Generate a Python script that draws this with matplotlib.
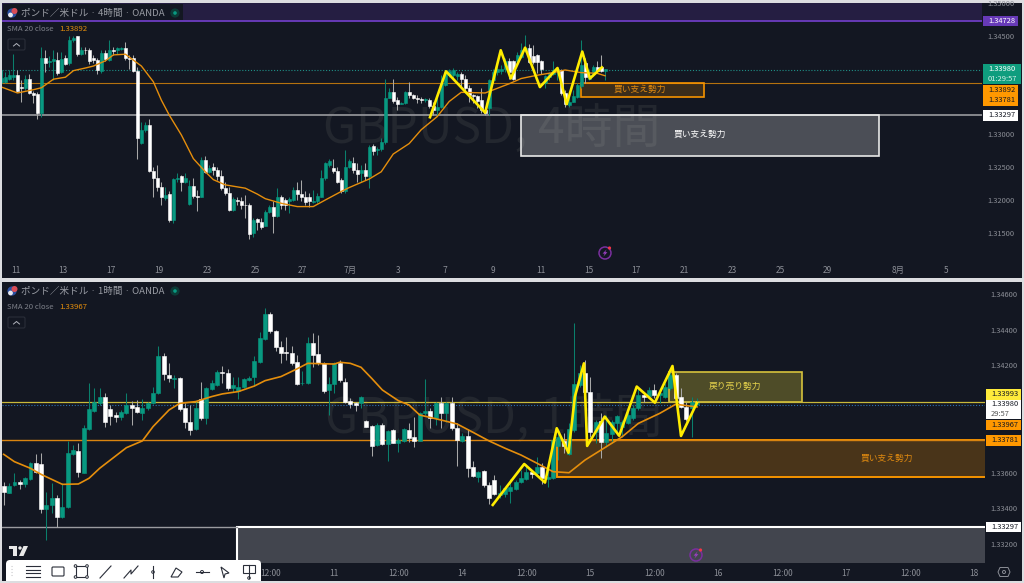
import numpy as np
import matplotlib
matplotlib.use('Agg')
import matplotlib.pyplot as plt
from matplotlib.patches import Rectangle, Circle, FancyBboxPatch, Polygon

plt.rcParams['font.family'] = ['Noto Sans CJK JP', 'DejaVu Sans']

# 4 hour panel
opens_4h = [1.3380,1.3380,1.3385,1.3388,1.3390,1.3372,1.3371,1.3384,1.3363,1.3361,
    1.3332,1.3416,1.3410,1.3411,1.3413,1.3395,1.3416,1.3408,1.3443,1.3449,
    1.3422,1.3429,1.3429,1.3417,1.3413,1.3397,1.3424,1.3413,1.3429,1.3428,
    1.3430,1.3431,1.3417,1.3416,1.3396,1.3287,1.3306,1.3314,1.3244,1.3233,
    1.3220,1.3203,1.3209,1.3170,1.3232,1.3236,1.3228,1.3194,1.3221,1.3206,
    1.3205,1.3261,1.3243,1.3251,1.3245,1.3236,1.3219,1.3211,1.3185,1.3200,
    1.3199,1.3193,1.3192,1.3149,1.3171,1.3167,1.3161,1.3181,1.3190,1.3175,
    1.3205,1.3200,1.3199,1.3200,1.3216,1.3209,1.3205,1.3205,1.3197,1.3198,
    1.3205,1.3233,1.3253,1.3249,1.3244,1.3231,1.3213,1.3251,1.3257,1.3245,
    1.3241,1.3246,1.3236,1.3282,1.3276,1.3277,1.3289,1.3356,1.3364,1.3353,
    1.3346,1.3347,1.3365,1.3360,1.3356,1.3354,1.3352,1.3353,1.3343,1.3337,
    1.3341,1.3375,1.3390,1.3390,1.3389,1.3392,1.3385,1.3371,1.3360,1.3359,
    1.3353,1.3337,1.3340,1.3383,1.3395,1.3397,1.3399,1.3412,1.3411,1.3411,
    1.3418,1.3428,1.3431,1.3419,1.3421,1.3411,1.3378,1.3388,1.3392,1.3397,
    1.3398,1.3363,1.3345,1.3350,1.3357,1.3374,1.3408,1.3385,1.3392,1.3402,
    1.3402,1.3397]
closes_4h = [1.3386,1.3388,1.3390,1.3390,1.3366,1.3370,1.3384,1.3363,1.3360,1.3332,
    1.3416,1.3408,1.3412,1.3414,1.3393,1.3414,1.3407,1.3444,1.3447,1.3422,
    1.3429,1.3428,1.3411,1.3413,1.3398,1.3424,1.3414,1.3428,1.3427,1.3431,
    1.3431,1.3417,1.3415,1.3396,1.3294,1.3307,1.3314,1.3244,1.3233,1.3220,
    1.3204,1.3208,1.3169,1.3232,1.3234,1.3228,1.3233,1.3221,1.3206,1.3205,
    1.3261,1.3243,1.3249,1.3245,1.3236,1.3219,1.3211,1.3185,1.3202,1.3198,
    1.3193,1.3192,1.3148,1.3170,1.3167,1.3159,1.3182,1.3190,1.3175,1.3205,
    1.3193,1.3193,1.3201,1.3216,1.3209,1.3205,1.3197,1.3198,1.3198,1.3206,
    1.3233,1.3256,1.3260,1.3244,1.3228,1.3213,1.3251,1.3260,1.3245,1.3240,
    1.3246,1.3236,1.3280,1.3274,1.3277,1.3289,1.3356,1.3364,1.3351,1.3346,
    1.3347,1.3365,1.3360,1.3356,1.3354,1.3352,1.3354,1.3343,1.3337,1.3342,
    1.3378,1.3395,1.3397,1.3398,1.3392,1.3385,1.3371,1.3360,1.3359,1.3351,
    1.3337,1.3333,1.3383,1.3395,1.3400,1.3400,1.3412,1.3395,1.3385,1.3421,
    1.3428,1.3431,1.3410,1.3410,1.3410,1.3400,1.3389,1.3393,1.3398,1.3400,
    1.3363,1.3346,1.3350,1.3358,1.3375,1.3405,1.3388,1.3390,1.3403,1.3397,
    1.3396,1.3399]
highs_4h = [1.3398,1.3395,1.3398,1.3423,1.3398,1.3383,1.3390,1.3392,1.3366,1.3365,
    1.3433,1.3428,1.3419,1.3428,1.3426,1.3426,1.3421,1.3449,1.3450,1.3450,
    1.3433,1.3433,1.3431,1.3421,1.3417,1.3428,1.3428,1.3443,1.3433,1.3433,
    1.3433,1.3441,1.3421,1.3421,1.3403,1.3319,1.3319,1.3324,1.3251,1.3253,
    1.3228,1.3220,1.3213,1.3233,1.3241,1.3238,1.3241,1.3231,1.3233,1.3215,
    1.3266,1.3267,1.3253,1.3256,1.3251,1.3246,1.3228,1.3220,1.3205,1.3205,
    1.3204,1.3208,1.3195,1.3172,1.3172,1.3172,1.3185,1.3193,1.3198,1.3219,
    1.3208,1.3203,1.3205,1.3220,1.3228,1.3231,1.3213,1.3210,1.3215,1.3211,
    1.3246,1.3258,1.3262,1.3262,1.3251,1.3233,1.3276,1.3263,1.3266,1.3256,
    1.3253,1.3256,1.3284,1.3285,1.3281,1.3294,1.3384,1.3370,1.3385,1.3357,
    1.3350,1.3366,1.3380,1.3362,1.3360,1.3357,1.3356,1.3355,1.3350,1.3357,
    1.3390,1.3398,1.3400,1.3401,1.3395,1.3395,1.3390,1.3375,1.3362,1.3360,
    1.3370,1.3342,1.3385,1.3400,1.3413,1.3405,1.3416,1.3416,1.3413,1.3426,
    1.3439,1.3451,1.3438,1.3436,1.3423,1.3413,1.3390,1.3395,1.3411,1.3403,
    1.3400,1.3367,1.3360,1.3367,1.3378,1.3443,1.3416,1.3400,1.3405,1.3411,
    1.3421,1.3400]
lows_4h = [1.3378,1.3378,1.3383,1.3383,1.3365,1.3350,1.3368,1.3361,1.3347,1.3324,
    1.3327,1.3395,1.3403,1.3383,1.3390,1.3393,1.3405,1.3405,1.3441,1.3419,
    1.3421,1.3423,1.3407,1.3409,1.3392,1.3393,1.3411,1.3411,1.3421,1.3423,
    1.3428,1.3413,1.3400,1.3395,1.3262,1.3285,1.3304,1.3243,1.3205,1.3213,
    1.3193,1.3200,1.3167,1.3165,1.3228,1.3213,1.3226,1.3193,1.3203,1.3184,
    1.3204,1.3241,1.3241,1.3238,1.3231,1.3216,1.3208,1.3184,1.3184,1.3193,
    1.3187,1.3172,1.3140,1.3143,1.3154,1.3156,1.3160,1.3180,1.3150,1.3174,
    1.3187,1.3185,1.3180,1.3198,1.3200,1.3198,1.3193,1.3190,1.3195,1.3196,
    1.3204,1.3231,1.3251,1.3241,1.3226,1.3211,1.3211,1.3248,1.3241,1.3228,
    1.3228,1.3231,1.3219,1.3269,1.3269,1.3275,1.3286,1.3355,1.3348,1.3337,
    1.3346,1.3346,1.3356,1.3354,1.3348,1.3347,1.3349,1.3340,1.3329,1.3329,
    1.3340,1.3374,1.3388,1.3385,1.3383,1.3372,1.3365,1.3350,1.3347,1.3340,
    1.3332,1.3329,1.3329,1.3380,1.3390,1.3392,1.3395,1.3385,1.3383,1.3408,
    1.3416,1.3426,1.3408,1.3407,1.3393,1.3392,1.3371,1.3383,1.3390,1.3383,
    1.3360,1.3342,1.3341,1.3350,1.3355,1.3371,1.3378,1.3383,1.3389,1.3393,
    1.3395,1.3383]
sma_bars_4h = [0,4,8,10,13,16,18,21,23,26,28,31,33,35,38,40,42,45,48,51,53,56,61,64,66,70,74,78,81,85,
    87,92,95,98,102,105,109,112,115,121,124,127,130,134,138,141,145,149,151]
sma_4h = [1.3372,1.3363,1.3368,1.3371,1.3384,1.3387,1.3397,1.3401,1.3404,1.3412,1.3421,1.3422,1.3413,1.3404,
    1.3380,1.3352,1.3329,1.3299,1.3263,1.3243,1.3231,1.3223,1.3218,1.3209,1.3202,1.3195,1.3190,1.3190,1.3200,1.3213,
    1.3219,1.3232,1.3243,1.3270,1.3286,1.3307,1.3327,1.3350,1.3364,1.3363,1.3370,1.3377,1.3385,1.3390,1.3394,1.3398,
    1.3394,1.3393,1.33892]
wave_bars_4h = [107.2,111.2,121,124.9,127.4,131,134.7,139.1,141.4,145.3,147.2,150.2]
wave_4h = [1.3326,1.3396,1.3333,1.3428,1.3385,1.3432,1.3372,1.3401,1.3346,1.3426,1.3385,1.3402]
ticks_4h = [3.63,15.39,27.4,39.4,51.4,63.4,75.2,87.2,99.2,111,123,135,147,158.8,170.8,182.8,194.8,206.5,224.3,236.3]
tick_labels_4h = ['11','13','17','19','23','25','27','7月','3','7','9','11','15','17','21','23','25','29','8月','5']
prices_4h = [1.315,1.32,1.325,1.33,1.345,1.35]

# 1 hour panel
opens_1h = [1.33527,1.33488,1.3353,1.33549,1.33536,1.33562,1.33655,1.33648,1.33394,1.33419,
    1.33456,1.33353,1.33406,1.33704,1.33723,1.33599,1.33844,1.33946,1.33991,1.34025,
    1.33954,1.33922,1.33909,1.33935,1.33978,1.33965,1.33935,1.33959,1.33987,1.34043,
    1.34254,1.34148,1.34124,1.34127,1.33959,1.33885,1.33844,1.34012,1.33907,1.34068,
    1.3409,1.34165,1.34159,1.34071,1.34056,1.34081,1.34118,1.34133,1.34221,1.34345,
    1.34485,1.34392,1.34304,1.34276,1.34267,1.34217,1.34099,1.34099,1.34323,1.34262,
    1.34211,1.34062,1.34096,1.34211,1.34109,1.34002,1.33987,1.33987,1.33889,1.33862,
    1.33754,1.33866,1.3376,1.33838,1.33764,1.33779,1.33838,1.33797,1.33779,1.33931,
    1.33944,1.33907,1.33987,1.33931,1.33991,1.33851,1.33779,1.33806,1.33633,1.33577,
    1.33609,1.3353,1.33558,1.33475,1.3348,1.33499,1.33508,1.33549,1.33564,1.33605,
    1.33599,1.33629,1.33564,1.33568,1.33749,1.33777,1.33704,1.33838,1.3409,1.34155,
    1.34053,1.33829,1.33889,1.3377,1.33816,1.33875,1.33857,1.33879,1.33903,1.33959,
    1.34034,1.34028,1.34062,1.34034,1.34025,1.34071,1.34146,1.34021,1.33965,1.33959,1.33984]
closes_1h = [1.33493,1.33527,1.33549,1.33534,1.33568,1.33652,1.33605,1.33394,1.33419,1.33456,
    1.33353,1.33409,1.33708,1.33726,1.33605,1.33848,1.33954,1.33997,1.34025,1.33885,
    1.33917,1.33913,1.33937,1.33978,1.33963,1.33937,1.33959,1.33987,1.34043,1.34254,
    1.3415,1.34127,1.34127,1.33954,1.33885,1.33838,1.33959,1.33907,1.34071,1.34099,
    1.34161,1.34155,1.34075,1.3409,1.34077,1.34122,1.34131,1.34226,1.34351,1.34485,
    1.34392,1.34301,1.34271,1.34267,1.34211,1.34094,1.34103,1.34323,1.34258,1.34211,
    1.34058,1.34094,1.34211,1.34118,1.33997,1.33984,1.33978,1.34025,1.33857,1.33751,
    1.33866,1.33758,1.33834,1.33767,1.33782,1.33842,1.33795,1.33779,1.33931,1.33944,
    1.33907,1.33987,1.33931,1.33991,1.33848,1.33782,1.33806,1.33627,1.33581,1.33605,
    1.3353,1.3346,1.3348,1.33484,1.33512,1.33521,1.33549,1.33568,1.33605,1.33592,
    1.33629,1.33568,1.33577,1.33782,1.33797,1.33751,1.33842,1.34096,1.34155,1.34053,
    1.33825,1.33885,1.33773,1.3382,1.33885,1.33917,1.33885,1.33922,1.33963,1.34034,
    1.34025,1.34062,1.34034,1.34043,1.34077,1.34146,1.34015,1.33965,1.339,1.33997,1.33991]
highs_1h = [1.33549,1.3354,1.33596,1.33558,1.33573,1.33661,1.33704,1.33708,1.33493,1.3354,
    1.33475,1.3354,1.33777,1.33754,1.33764,1.33866,1.34099,1.34071,1.34071,1.34043,
    1.33978,1.33941,1.3395,1.34043,1.34002,1.34006,1.3401,1.33997,1.34081,1.34308,
    1.34271,1.34215,1.34146,1.34133,1.33987,1.33978,1.33997,1.34109,1.34081,1.34118,
    1.34174,1.34196,1.34178,1.34133,1.34137,1.34127,1.3414,1.34252,1.34388,1.34519,
    1.345,1.34398,1.34338,1.3436,1.34308,1.34258,1.3417,1.3436,1.34379,1.3437,
    1.34221,1.34137,1.34221,1.3423,1.34127,1.34015,1.33997,1.34028,1.33894,1.33866,
    1.33875,1.33879,1.33838,1.33844,1.33792,1.33848,1.33875,1.33913,1.33941,1.34122,
    1.33959,1.33997,1.34025,1.33997,1.34025,1.33875,1.3382,1.33842,1.33665,1.33611,
    1.33614,1.33549,1.33586,1.3353,1.33521,1.33562,1.33558,1.33614,1.33648,1.33614,
    1.33689,1.33652,1.33614,1.33792,1.33838,1.3382,1.33875,1.34435,1.34202,1.3423,
    1.34137,1.33894,1.33931,1.33922,1.33894,1.33922,1.33894,1.33941,1.33978,1.34081,
    1.34053,1.34081,1.34096,1.34062,1.34099,1.34183,1.34155,1.34071,1.33997,1.34025,1.34015]
lows_1h = [1.33419,1.33484,1.33525,1.33508,1.33517,1.33558,1.33596,1.33376,1.33223,1.33372,
    1.33297,1.33344,1.334,1.33698,1.33573,1.33596,1.33838,1.33941,1.33978,1.33857,
    1.33866,1.33885,1.33894,1.33928,1.33866,1.33931,1.33894,1.3395,1.33984,1.3404,
    1.34118,1.34109,1.34071,1.33946,1.33848,1.3381,1.33838,1.33894,1.33872,1.34062,
    1.34084,1.34099,1.34062,1.34053,1.3401,1.34071,1.34114,1.34084,1.34215,1.34342,
    1.34379,1.34282,1.34215,1.3423,1.34202,1.3409,1.3409,1.34096,1.34193,1.34202,
    1.34043,1.33922,1.34043,1.34109,1.33987,1.33959,1.33946,1.33959,1.33853,1.33695,
    1.33751,1.33754,1.33667,1.33764,1.33713,1.33773,1.33773,1.33745,1.33777,1.33922,
    1.33851,1.33866,1.33851,1.33885,1.33838,1.33637,1.33773,1.33573,1.33573,1.33549,
    1.33521,1.33424,1.33475,1.33456,1.33465,1.33428,1.33502,1.33544,1.33558,1.33568,
    1.33586,1.33536,1.33517,1.33564,1.3367,1.33708,1.33698,1.33829,1.34081,1.34043,
    1.33801,1.33764,1.3368,1.33745,1.33764,1.3381,1.33801,1.33872,1.33894,1.3395,
    1.33997,1.34021,1.34015,1.33987,1.34015,1.34062,1.33997,1.33959,1.3389,1.33801,1.33973]
sma_bars_1h = [0,2,5,7,11,14,16,18,23,26,28,31,33,36,39,41,44,47,49,52,55,57,62,63,65,67,69,71,74,76,78,82,85,88,91,94,97,100,103,106,109,112,116,119,123,126,130]
sma_1h = [1.33702,1.33661,1.33624,1.3359,1.33534,1.33536,1.33568,1.33624,1.33739,1.33777,1.33857,1.3395,1.33987,1.33997,1.34025,1.3404,1.34053,1.34084,1.34114,1.34137,1.3418,1.34211,1.34207,1.34217,1.34211,1.34189,1.34127,1.34062,1.34002,1.33978,1.33922,1.33894,1.33872,1.33825,1.33777,1.33736,1.33698,1.33652,1.33605,1.33599,1.3367,1.33726,1.33801,1.33875,1.33931,1.33982,1.33967]
wave_bars_1h = [91.7,97.6,101.5,103.7,105.9,107.1,108.8,109.4,112.7,115.4,118.7,122.1,125.4,127,130]
wave_1h = [1.33419,1.33648,1.33544,1.33848,1.33711,1.34025,1.34211,1.33749,1.33913,1.33806,1.34081,1.33991,1.34196,1.33805,1.33991]
ticks_1h = [50,62,74,86,98,110,122,134,146,158,170,182]
tick_labels_1h = ['12:00','11','12:00','14','12:00','15','12:00','16','12:00','17','12:00','18']
prices_1h = [1.332,1.334,1.336,1.338,1.342,1.344,1.346]

BG = '#131722'
GREEN = '#089981'
GREY_TXT = '#8b8e96'
ORANGE = '#f59300'
YELLOW = '#ffec00'


def draw_candles(ax, o, h, l, c, width):
    o, h, l, c = map(np.array, (o, h, l, c))
    x = np.arange(len(o))
    up = c >= o
    ax.vlines(x[up], l[up], h[up], color='#0a7f6c', lw=0.75, zorder=3)
    ax.vlines(x[~up], l[~up], h[~up], color='#a8a8a8', lw=0.75, zorder=3)
    ax.bar(x[up], (c - o)[up], bottom=o[up], width=width, color=GREEN, edgecolor=GREEN, lw=0.4, zorder=4)
    ax.bar(x[~up], (c - o)[~up], bottom=o[~up], width=width, color='white', edgecolor='white', lw=0.4, zorder=4)


def setup(ax, xlim, ylim, ticks, labels, prices, name, xpad):
    ax.set_facecolor('none')
    ax.set_xlim(*xlim)
    ax.set_ylim(*ylim)
    ax.set_xticks(ticks)
    ax.set_xticklabels(labels)
    ax.set_yticks(prices)
    ax.set_yticklabels(['%.5f' % p for p in prices])
    ax.yaxis.tick_right()
    ax.tick_params(axis='x', length=0, pad=xpad, labelsize=6, labelcolor=GREY_TXT)
    ax.tick_params(axis='y', length=0, pad=4.2, labelsize=5.4, labelcolor=GREY_TXT)
    for s in ax.spines.values():
        s.set_visible(False)
    ax.text(0.5, 0.51, name, transform=ax.transAxes, ha='center', va='center',
            fontsize=34.5, color='#23272f', zorder=1)


def axes_px(fig, x0, y0, x1, y1):
    return fig.add_axes([x0 / 1024, 1 - y1 / 583, (x1 - x0) / 1024, (y1 - y0) / 583])


fig = plt.figure(figsize=(10.24, 5.83), dpi=100, facecolor='#dcdde0')

back = fig.add_axes([0, 0, 1, 1], zorder=0)
back.set_xlim(0, 1024)
back.set_ylim(583, 0)
back.axis('off')
back.add_patch(Rectangle((2, 3), 1020, 275, color=BG, lw=0))
back.add_patch(Rectangle((2, 282), 1020, 299, color=BG, lw=0))

# top chart
ax1 = axes_px(fig, 2, 3, 982, 262)
ax1.set_zorder(1)
setup(ax1, (0.125, 245.3), (1.31056, 1.34998), ticks_4h, tick_labels_4h, prices_4h, 'GBPUSD, 4時間', 3)
ax1.axhspan(1.34728, 1.35, color='#673ab7', alpha=0.22, lw=0, zorder=1)
ax1.axhline(1.34728, color='#673ab7', lw=1.4, zorder=2)
ax1.axhline(1.33781, color='#b5720f', lw=0.8, zorder=2)
ax1.axhline(1.33297, color='#8f9095', lw=1.3, zorder=2)
ax1.axhline(1.3398, color='#1f8f86', lw=0.8, ls=(0, (1, 1.6)), zorder=2)
ax1.add_patch(Rectangle((129.96, 1.32677), 89.56, 0.0062, facecolor=(1, 1, 1, 0.24),
                        edgecolor='#e8e8e8', lw=1.2, zorder=2))
ax1.add_patch(Rectangle((145, 1.33572), 30.8, 0.00209, facecolor=(0.96, 0.58, 0, 0.18),
                        edgecolor=ORANGE, lw=1.2, zorder=2))
ax1.text(174.8, 1.33, '買い支え勢力', color='white', fontsize=6.3, ha='center', va='center', zorder=6)
ax1.text(159.7, 1.33689, '買い支え勢力', color='#e08a10', fontsize=6.3, ha='center', va='center', zorder=6)
draw_candles(ax1, opens_4h, highs_4h, lows_4h, closes_4h, 0.78)
ax1.plot(sma_bars_4h, sma_4h, color='#e58e0c', lw=1.0, zorder=5)
ax1.plot(wave_bars_4h, wave_4h, color=YELLOW, lw=1.9, zorder=6, solid_joinstyle='round')

# bottom chart
ax2 = axes_px(fig, 2, 282, 985, 563)
ax2.set_zorder(1)
setup(ax2, (-0.319, 184.0), (1.33094, 1.34666), ticks_1h, tick_labels_1h, prices_1h, 'GBPUSD, 1時間', 4)
ax2.add_patch(Rectangle((124.7, 1.33993), 25, 0.0017, facecolor=(1, 0.92, 0.23, 0.25),
                        edgecolor='#d6c23c', lw=1.2, zorder=2))
ax2.add_patch(Rectangle((103.7, 1.33577), 90, 0.00204, facecolor=(0.96, 0.58, 0, 0.24),
                        edgecolor=ORANGE, lw=1.4, zorder=2))
ax2.add_patch(Rectangle((43.8, 1.32), 150, 0.01297, facecolor=(1, 1, 1, 0.2),
                        edgecolor='white', lw=1.5, zorder=2))
ax2.plot([-1, 43.8], [1.33297, 1.33297], color='#9a9ba0', lw=1.0, zorder=2)
ax2.axhline(1.33993, color='#c9b93a', lw=0.9, zorder=2)
ax2.axhline(1.3398, color='#2c6fb0', lw=0.8, ls=(0, (1, 1.6)), zorder=2)
ax2.axhline(1.33781, color='#d98410', lw=1.0, zorder=2)
ax2.text(137.1, 1.34084, '戻り売り勢力', color='#e8d44d', fontsize=6.3, ha='center', va='center', zorder=6)
ax2.text(165.6, 1.33681, '買い支え勢力', color='#e08a10', fontsize=6.3, ha='center', va='center', zorder=6)
draw_candles(ax2, opens_1h, highs_1h, lows_1h, closes_1h, 0.7)
ax2.plot(sma_bars_1h, sma_1h, color='#e58e0c', lw=1.2, zorder=5)
ax2.plot(wave_bars_1h, wave_1h, color=YELLOW, lw=1.9, zorder=6, solid_joinstyle='round')

# overlay: badges, legends, toolbar
ui = fig.add_axes([0, 0, 1, 1], zorder=5)
ui.set_xlim(0, 1024)
ui.set_ylim(583, 0)
ui.axis('off')
ui.patch.set_alpha(0)


def badge(x0, x1, y0, y1, color, lines, tc='#131722'):
    ui.add_patch(Rectangle((x0, y0), x1 - x0, y1 - y0, color=color, lw=0))
    step = (y1 - y0) / len(lines)
    for i, (t, c) in enumerate(lines):
        ui.text(x0 + 5, y0 + step * (i + 0.5), t, color=c or tc, fontsize=5.4, ha='left', va='center')


badge(983, 1018, 16, 26, '#673ab7', [('1.34728', 'white')])
badge(983, 1021, 64, 84, '#0f9d7e', [('1.33980', 'white'), ('01:29:57', '#d5efe8')])
badge(983, 1018, 85, 95, '#ff9800', [('1.33892', None)])
badge(983, 1018, 95, 106, '#ff9800', [('1.33781', None)])
badge(983, 1018, 110, 120.5, 'white', [('1.33297', None)])
badge(986, 1021, 389, 399.5, '#ffeb3b', [('1.33993', None)])
badge(986, 1021, 399.5, 419, 'white', [('1.33980', None), ('29:57', '#555')])
badge(986, 1021, 419.5, 430, '#ff9800', [('1.33967', None)])
badge(986, 1021, 435, 446, '#ff9800', [('1.33781', None)])
badge(986, 1021, 521.5, 532, 'white', [('1.33297', None)])

ui.add_patch(Rectangle((3, 4), 180, 16, color=BG, lw=0))


def legend(y0, title, value):
    ui.add_patch(Circle((12, y0), 4.6, color='#2a4fa0', lw=0))
    ui.add_patch(Circle((14.5, y0 - 2), 3, color='#d94c55', lw=0))
    ui.add_patch(Circle((10.5, y0 + 2), 2.4, color='#e8e8ee', lw=0))
    ui.text(21, y0, title, color='#9a9da5', fontsize=6.9, ha='left', va='center')
    ui.add_patch(Circle((175, y0), 4.6, color='#0c3a36', lw=0))
    ui.add_patch(Circle((175, y0), 1.8, color='#089981', lw=0))
    ui.text(7, y0 + 16, 'SMA 20 close', color='#7d8089', fontsize=5.6, ha='left', va='center')
    ui.text(59, y0 + 16, value, color='#e58e0c', fontsize=5.6, ha='left', va='center')
    ui.add_patch(FancyBboxPatch((8, y0 + 26), 17, 11, boxstyle='round,pad=0,rounding_size=1.5',
                                fc=BG, ec='#2a2e39', lw=0.8))
    ui.plot([13.5, 16.5, 19.5], [y0 + 33, y0 + 30.5, y0 + 33], color='#b2b5be', lw=0.7)


legend(13, 'ポンド／米ドル · 4時間 · OANDA', '1.33892')
legend(291, 'ポンド／米ドル · 1時間 · OANDA', '1.33967')


def bolt(cx, cy):
    ui.add_patch(Circle((cx, cy), 6, fc='none', ec='#7a2f9f', lw=1.1))
    ui.add_patch(Polygon([(cx + 1.6, cy - 3.6), (cx - 2.4, cy + 0.6), (cx - 0.2, cy + 0.6), (cx - 1.6, cy + 3.6),
                          (cx + 2.4, cy - 0.8), (cx + 0.2, cy - 0.8)], color='#9c3fc4', lw=0))
    ui.add_patch(Circle((cx + 4.5, cy - 5), 1.6, color='#f23645', lw=0))


bolt(605, 253)
bolt(696, 555)

# tradingview mark
ui.add_patch(Polygon([(9, 546), (17, 546), (17, 556), (13, 556), (13, 549), (9, 549)], color='#e8e8e8', lw=0))
ui.add_patch(Circle((20, 548), 1.7, color='#e8e8e8', lw=0))
ui.add_patch(Polygon([(23.5, 546), (28, 546), (23.5, 556), (19, 556)], color='#e8e8e8', lw=0))

# drawing toolbar
ui.add_patch(FancyBboxPatch((6, 560), 255, 30, boxstyle='round,pad=0,rounding_size=4', fc='white', ec='none', clip_on=True))
ink = '#2a2e39'
for y in (566, 569, 572, 575):
    ui.plot([11, 13], [y, y], color='#c8c8cc', lw=0.8, ls=':')
for y in (566, 569.5, 573, 576.5):
    ui.plot([26, 40], [y, y], color=ink, lw=0.8)
ui.add_patch(FancyBboxPatch((52, 567), 12, 9, boxstyle='round,pad=0,rounding_size=1', fc='none', ec=ink, lw=0.8))
ui.add_patch(Rectangle((75.5, 566), 11.5, 11, fc='none', ec=ink, lw=0.8))
for px, py in [(75.5, 566), (87, 566), (75.5, 577), (87, 577)]:
    ui.add_patch(Circle((px, py), 1.3, fc='white', ec=ink, lw=0.7))
ui.plot([100, 111], [578, 566], color=ink, lw=0.8)
ui.plot([124, 131, 131, 138], [578, 570, 574, 566], color=ink, lw=0.8)
ui.plot([153, 153], [566, 578], color=ink, lw=0.8)
ui.add_patch(Circle((153, 572), 1.3, fc='white', ec=ink, lw=0.7))
ui.add_patch(Polygon([(171, 577), (176, 568), (182, 572), (178, 577)], fc='none', ec=ink, lw=0.8))
ui.plot([196, 209], [572, 572], color=ink, lw=0.8)
ui.add_patch(Circle((202, 572), 1.5, fc='white', ec=ink, lw=0.7))
ui.add_patch(Polygon([(221, 567), (229, 573), (225, 574), (224, 578)], fc='none', ec=ink, lw=0.8))
ui.add_patch(Rectangle((243, 565), 12, 8, fc='none', ec=ink, lw=0.8))
ui.plot([249, 249], [565, 578], color=ink, lw=0.8)
ui.add_patch(Circle((249, 578), 1.3, fc='white', ec=ink, lw=0.7))

# settings icon
ui.add_patch(Polygon([(1000, 567.5), (1008, 567.5), (1010, 572), (1008, 576.5), (1000, 576.5), (998, 572)],
                     fc='none', ec='#8b8e96', lw=0.7))
ui.add_patch(Circle((1004, 572), 1.5, fc='none', ec='#8b8e96', lw=0.7))

# edge of the page below the lower panel
ui.add_patch(Rectangle((0, 581), 1024, 2, color='#dcdde0', lw=0))

fig.savefig('out.png', dpi=100, facecolor=fig.get_facecolor())
